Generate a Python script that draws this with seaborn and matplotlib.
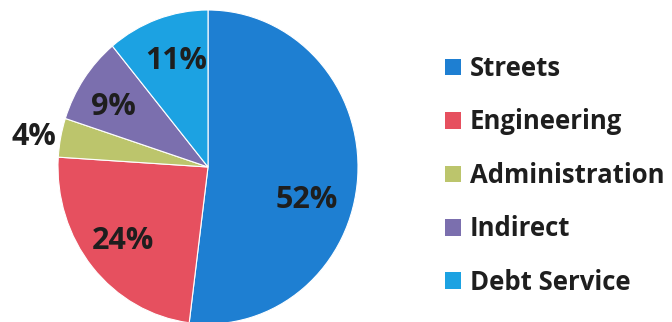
import matplotlib
matplotlib.use("Agg")
import matplotlib.pyplot as plt
import seaborn as sns
import numpy as np
from matplotlib.patches import Patch
from matplotlib.transforms import offset_copy

categories = ["Streets", "Engineering", "Administration", "Indirect", "Debt Service"]
shares = [52, 24, 4, 9, 11]
pct_labels = ["52%", "24%", "4%", "9%", "11%"]
colors = ["#1e7fd2", "#e6505f", "#bcc56c", "#7b6fae", "#1ca2e2"]

sns.set_theme(style="white")
plt.rcParams["font.family"] = ["Open Sans", "DejaVu Sans"]

W, H = 672, 322
fig = plt.figure(figsize=(W / 100, H / 100), dpi=100)
fig.patch.set_facecolor("white")

# pie box in pixels: left 58, right 358, top 10, bottom 324
ax = fig.add_axes([58 / W, (H - 324) / H, 300 / W, 314 / H])
wedges, _ = ax.pie(shares, colors=colors, startangle=90, counterclock=False,
                   wedgeprops=dict(edgecolor="white", linewidth=0.8))
ax.set_xlim(-1, 1)
ax.set_ylim(-1, 1)
ax.set_aspect("auto")
ax.axis("off")

# label placement (distance from centre, angular offset in degrees)
dists = [0.687, 0.725, 1.179, 0.749, 0.726]
offsets = [-12.5, -1.0, 0.5, 1.8, -2.7]
lab_size = 22
trans = offset_copy(ax.transData, fig=fig, y=-0.36 * lab_size, units="points")
for w, lab, d, off in zip(wedges, pct_labels, dists, offsets):
    ang = np.deg2rad((w.theta1 + w.theta2) / 2 + off)
    ax.text(d * np.cos(ang), d * np.sin(ang), lab, ha="center", va="baseline",
            fontsize=lab_size, fontweight="bold", color="#1e1e1e",
            transform=trans)

handles = [Patch(facecolor=c, edgecolor="none") for c in colors]
fig.legend(handles, categories, loc="upper left",
           bbox_to_anchor=(445 / W, 1 - 55 / H), borderaxespad=0, borderpad=0,
           frameon=False, prop=dict(weight="bold", size=18.5),
           handlelength=0.62, handleheight=0.62, handletextpad=0.35,
           labelspacing=1.03)
for t in fig.legends[0].get_texts():
    t.set_color("#1e1e1e")

fig.savefig("out.png", dpi=100, facecolor="white")
